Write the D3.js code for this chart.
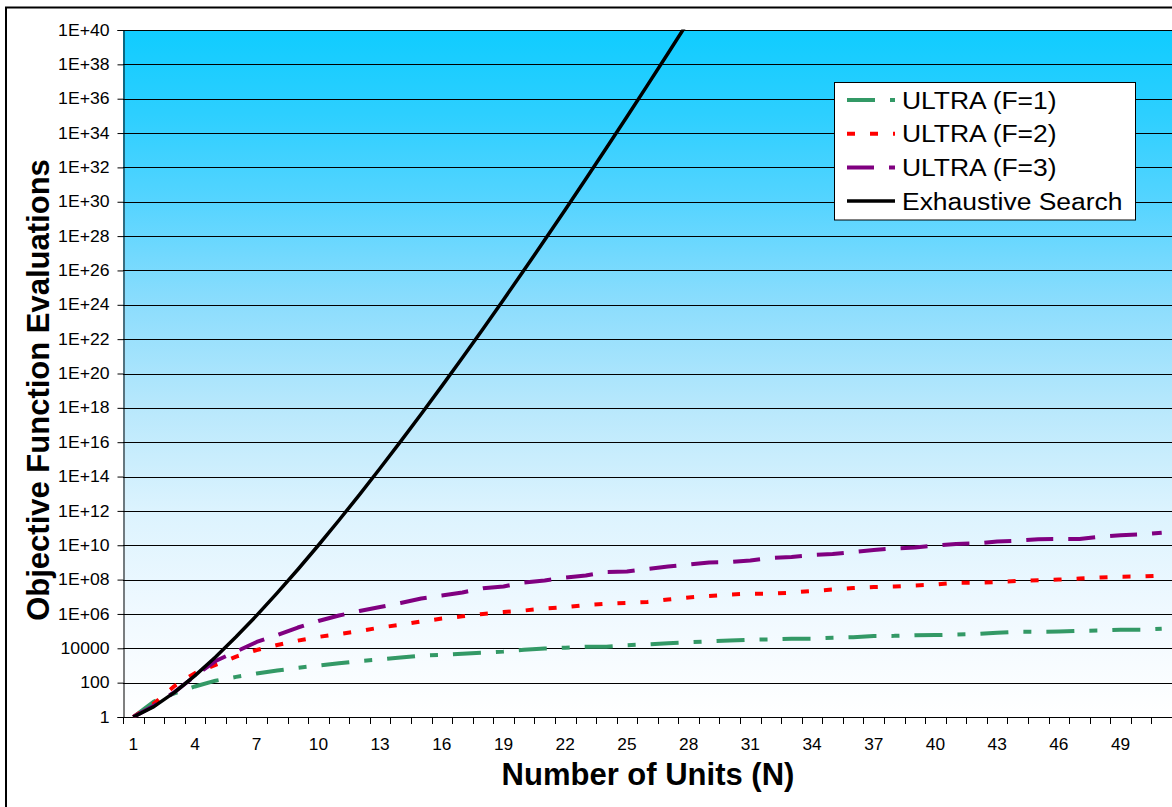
<!DOCTYPE html>
<html>
<head>
<meta charset="utf-8">
<script src="https://cdn.jsdelivr.net/npm/d3@7"></script>
<style>
  html, body { margin: 0; padding: 0; background: #fff; }
  svg { display: block; font-family: "Liberation Sans", Arial, sans-serif; }
</style>
</head>
<body>
<svg id="chart" width="1172" height="807"></svg>
<script>
// Number of units N = 1 .. 51
const units = d3.range(1, 52);

// Objective function evaluations per method
const ultraF1 = [1, 8, 24, 60, 130, 216, 340, 510, 730, 1000,
  1330, 1820, 2240, 2880, 3800, 4070, 4880, 5500, 6500, 8200,
  9800, 10800, 12400, 12400, 15100, 17000, 19800, 22600, 25600, 28400,
  31700, 33000, 36300, 36300, 41400, 44300, 52000, 53000, 57700, 59000,
  63000, 67800, 81000, 93000, 90000, 94000, 104000, 109000, 121000, 121000,
  138000];
const ultraF2 = [1, 6, 63, 360, 1070, 3300, 7900, 15500, 28000, 46000,
  68000, 1.0e5, 1.62e5, 2.34e5, 3.63e5, 5.37e5, 7.24e5, 1.0e6, 1.29e6, 1.58e6,
  2.09e6, 2.51e6, 3.31e6, 3.89e6, 4.37e6, 5.0e6, 6.9e6, 9.1e6, 1.12e7, 1.35e7,
  1.51e7, 1.51e7, 1.74e7, 2.19e7, 2.63e7, 3.24e7, 3.72e7, 3.98e7, 4.57e7, 5.13e7,
  6.61e7, 6.61e7, 7.24e7, 8.32e7, 9.12e7, 1.0e8, 1.15e8, 1.32e8, 1.48e8, 1.51e8,
  1.70e8];
const ultraF3 = [1, 4.5, 28, 245, 1820, 6460, 23400, 58900, 1.62e5, 3.89e5,
  8.13e5, 1.48e6, 2.51e6, 4.37e6, 7.94e6, 1.17e7, 1.78e7, 3.09e7, 3.98e7, 6.76e7,
  8.91e7, 1.32e8, 1.74e8, 2.75e8, 2.95e8, 4.17e8, 5.75e8, 7.59e8, 1.0e9, 1.05e9,
  1.29e9, 1.82e9, 2.09e9, 2.69e9, 3.09e9, 4.07e9, 5.37e9, 6.46e9, 7.41e9, 9.77e9,
  1.2e10, 1.29e10, 1.66e10, 1.86e10, 2.24e10, 2.29e10, 2.29e10, 3.09e10, 3.80e10, 4.27e10,
  5.37e10];
const exhaustive = [1, 4, 27, 256, 3125, 46656, 823543, 16777216, 387420489, 1e10,
  2.853e11, 8.916e12, 3.029e14, 1.111e16, 4.379e17, 1.845e19, 8.272e20, 3.934e22, 1.978e24, 1.049e26,
  5.842e27, 3.414e29, 2.088e31, 1.334e33, 8.882e34, 6.156e36, 4.434e38, 3.323e40];

// Axis ticks
const yTickValues = d3.range(0, 41, 2).map(e => Math.pow(10, e));
const yTickLabels = ["1", "100", "10000", "1E+06", "1E+08", "1E+10", "1E+12", "1E+14",
  "1E+16", "1E+18", "1E+20", "1E+22", "1E+24", "1E+26", "1E+28", "1E+30",
  "1E+32", "1E+34", "1E+36", "1E+38", "1E+40"];
const xTickLabels = d3.range(1, 52, 3);

const seriesNames = ["ULTRA (F=1)", "ULTRA (F=2)", "ULTRA (F=3)", "Exhaustive Search"];

const series = [
  { name: seriesNames[0], values: ultraF1, color: "#339966", width: 4, dash: "28,15,8,15" },
  { name: seriesNames[1], values: ultraF2, color: "#FF0000", width: 4, dash: "8,15" },
  { name: seriesNames[2], values: ultraF3, color: "#800080", width: 4, dash: "27,15" },
  { name: seriesNames[3], values: exhaustive, color: "#000000", width: 3.5, dash: null }
];

// Widen text horizontally (wide face rendering of the labels)
function widen(sel, k) {
  sel.each(function () {
    const w = this.getComputedTextLength();
    d3.select(this).attr("textLength", w * k).attr("lengthAdjust", "spacingAndGlyphs");
  });
}

const svg = d3.select("#chart");

// Plot area
const plot = { left: 123, right: 1172, top: 30, bottom: 717 };

const x = d3.scaleBand().domain(units).range([plot.left, plot.right]).paddingInner(0).paddingOuter(0);
const xc = n => x(n) + x.bandwidth() / 2;
const y = d3.scaleLog().domain([1, 1e40]).range([plot.bottom, plot.top]);

// Outer chart frame
svg.append("rect")
  .attr("x", 6).attr("y", 7.5)
  .attr("width", 1200).attr("height", 850)
  .attr("fill", "#fff").attr("stroke", "#000").attr("stroke-width", 2);

// Background gradient: deep sky blue fading to white
const defs = svg.append("defs");
const grad = defs.append("linearGradient")
  .attr("id", "bg").attr("x1", 0).attr("y1", 0).attr("x2", 0).attr("y2", 1);
[[0, "#10CCFF"], [0.12, "#2CCFFF"], [0.25, "#55D4FF"], [0.4, "#8CDDFD"],
 [0.55, "#B8E8FC"], [0.7, "#DCF3FE"], [0.85, "#F0F9FF"], [1, "#FFFFFF"]]
  .forEach(([o, c]) => grad.append("stop").attr("offset", o).attr("stop-color", c));

svg.append("rect")
  .attr("x", plot.left).attr("y", plot.top)
  .attr("width", plot.right - plot.left).attr("height", plot.bottom - plot.top)
  .attr("fill", "url(#bg)");

defs.append("clipPath").attr("id", "clip")
  .append("rect")
  .attr("x", plot.left).attr("y", plot.top - 0.5)
  .attr("width", plot.right - plot.left).attr("height", plot.bottom - plot.top + 1);

// Horizontal gridlines
svg.append("g")
  .selectAll("line")
  .data(yTickValues.slice(1))
  .join("line")
  .attr("x1", plot.left).attr("x2", plot.right)
  .attr("y1", d => Math.round(y(d)) + 0.5).attr("y2", d => Math.round(y(d)) + 0.5)
  .attr("stroke", "#000").attr("stroke-width", 1);

// Y axis
const yAxis = d3.axisLeft(y)
  .tickValues(yTickValues)
  .tickFormat((d, i) => yTickLabels[i])
  .tickSize(6).tickPadding(8);
const gy = svg.append("g")
  .attr("transform", `translate(${plot.left + 0.5},0)`)
  .call(yAxis);
gy.select(".domain").attr("stroke", "#000").attr("stroke-width", 1);
gy.selectAll(".tick line").attr("stroke", "#000");
gy.selectAll(".tick text")
  .attr("font-size", 16).attr("fill", "#000")
  .attr("font-family", "Liberation Sans, Arial, sans-serif")
  .call(widen, 1.1);

// X axis: ticks between categories, labels every third unit
const boundaries = d3.range(0, units.length + 1).map(i => plot.left + i * x.bandwidth());
const gx = svg.append("g");
gx.append("line")
  .attr("x1", plot.left).attr("x2", plot.right)
  .attr("y1", plot.bottom + 0.5).attr("y2", plot.bottom + 0.5)
  .attr("stroke", "#000");
gx.selectAll(".xt")
  .data(boundaries)
  .join("line")
  .attr("class", "xt")
  .attr("x1", d => Math.round(d) + 0.5).attr("x2", d => Math.round(d) + 0.5)
  .attr("y1", plot.bottom).attr("y2", plot.bottom + 7)
  .attr("stroke", "#000");
gx.selectAll(".xl")
  .data(xTickLabels)
  .join("text")
  .attr("class", "xl")
  .attr("x", d => xc(d))
  .attr("y", 750)
  .attr("text-anchor", "middle")
  .attr("font-size", 16)
  .text(d => d)
  .call(widen, 1.08);

// Series lines
const line = d3.line()
  .x((d, i) => xc(units[i]))
  .y(d => y(d));

const gLines = svg.append("g").attr("clip-path", "url(#clip)");
series.forEach(s => {
  gLines.append("path")
    .datum(s.values)
    .attr("d", line)
    .attr("fill", "none")
    .attr("stroke", s.color)
    .attr("stroke-width", s.width)
    .attr("stroke-linejoin", "round")
    .attr("stroke-dasharray", s.dash);
});

// Axis titles
svg.append("text")
  .attr("transform", "translate(49,390) rotate(-90)")
  .attr("text-anchor", "middle")
  .attr("font-size", 31).attr("font-weight", "bold")
  .text("Objective Function Evaluations");

svg.append("text")
  .attr("x", 648).attr("y", 785)
  .attr("text-anchor", "middle")
  .attr("font-size", 31).attr("font-weight", "bold")
  .text("Number of Units (N)");

// Legend
const legend = svg.append("g");
legend.append("rect")
  .attr("x", 834.5).attr("y", 82.5)
  .attr("width", 301).attr("height", 137.5)
  .attr("fill", "#fff").attr("stroke", "#000").attr("stroke-width", 1);
series.forEach((s, i) => {
  const cy = 100 + i * 33.7;
  legend.append("line")
    .attr("x1", 847).attr("x2", 895)
    .attr("y1", cy).attr("y2", cy)
    .attr("stroke", s.color)
    .attr("stroke-width", s.width)
    .attr("stroke-dasharray", s.dash);
  legend.append("text")
    .attr("x", 902).attr("y", cy + 8.5)
    .attr("font-size", 23)
    .text(s.name)
    .call(widen, 1.15);
});
</script>
</body>
</html>
